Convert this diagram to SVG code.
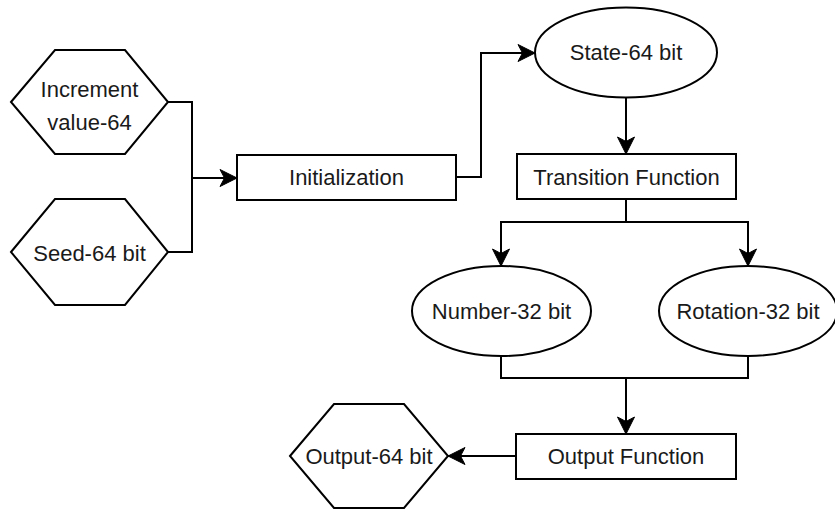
<svg xmlns="http://www.w3.org/2000/svg" width="835" height="510" viewBox="0 0 835 510">
  <style>
    .shape { fill: #ffffff; stroke: #000000; stroke-width: 2; }
    .edge { fill: none; stroke: #000000; stroke-width: 2; }
    .label { font-family: "Liberation Sans", Arial, Helvetica, sans-serif; font-size: 22px; fill: #1a1a1a; text-anchor: middle; }
  </style>
  <defs>
    <marker id="arrow" markerUnits="userSpaceOnUse" markerWidth="20" markerHeight="20" viewBox="0 0 20 20" refX="18" refY="10" orient="auto">
      <path d="M1,1.5 L18,10 L1,18.5 L5.5,10 Z" fill="#000000" stroke="#000000" stroke-width="1"/>
    </marker>
  </defs>
  <rect width="835" height="510" fill="#ffffff"/>

  <g id="connectors">
    <path class="edge" d="M168,102 H192 V178 H237" marker-end="url(#arrow)"/>
    <path class="edge" d="M168,252 H192 V178"/>
    <path class="edge" d="M456,177 H481 V53 H535" marker-end="url(#arrow)"/>
    <path class="edge" d="M626,98 V154" marker-end="url(#arrow)"/>
    <path class="edge" d="M626,199 V222 H501 V266" marker-end="url(#arrow)"/>
    <path class="edge" d="M626,222 H748 V266" marker-end="url(#arrow)"/>
    <path class="edge" d="M501,356 V378 H748 V356"/>
    <path class="edge" d="M626,378 V434" marker-end="url(#arrow)"/>
    <path class="edge" d="M516,456 H448" marker-end="url(#arrow)"/>
  </g>

  <g id="increment">
    <polygon class="shape" points="11,102 55,50 125,50 168,102 125,154 55,154"/>
    <text class="label" x="89.5" y="97">Increment</text>
    <text class="label" x="89.5" y="130">value-64</text>
  </g>

  <g id="seed">
    <polygon class="shape" points="11,252 55,199 125,199 168,252 125,305 55,305"/>
    <text class="label" x="89.5" y="261">Seed-64 bit</text>
  </g>

  <g id="initialization">
    <rect class="shape" x="237" y="155" width="219" height="45"/>
    <text class="label" x="346.5" y="185">Initialization</text>
  </g>

  <g id="state">
    <ellipse class="shape" cx="626" cy="52.5" rx="91" ry="45"/>
    <text class="label" x="626" y="60">State-64 bit</text>
  </g>

  <g id="transition">
    <rect class="shape" x="517" y="154" width="219" height="45"/>
    <text class="label" x="626.5" y="185">Transition Function</text>
  </g>

  <g id="number">
    <ellipse class="shape" cx="501.5" cy="311" rx="89.5" ry="45"/>
    <text class="label" x="501.5" y="319">Number-32 bit</text>
  </g>

  <g id="rotation">
    <ellipse class="shape" cx="748" cy="311" rx="89" ry="45"/>
    <text class="label" x="748" y="319">Rotation-32 bit</text>
  </g>

  <g id="output-function">
    <rect class="shape" x="516" y="434" width="220" height="45"/>
    <text class="label" x="626" y="464">Output Function</text>
  </g>

  <g id="output">
    <polygon class="shape" points="290,456 334,404 404,404 448,456 404,508 334,508"/>
    <text class="label" x="369" y="464">Output-64 bit</text>
  </g>
</svg>
